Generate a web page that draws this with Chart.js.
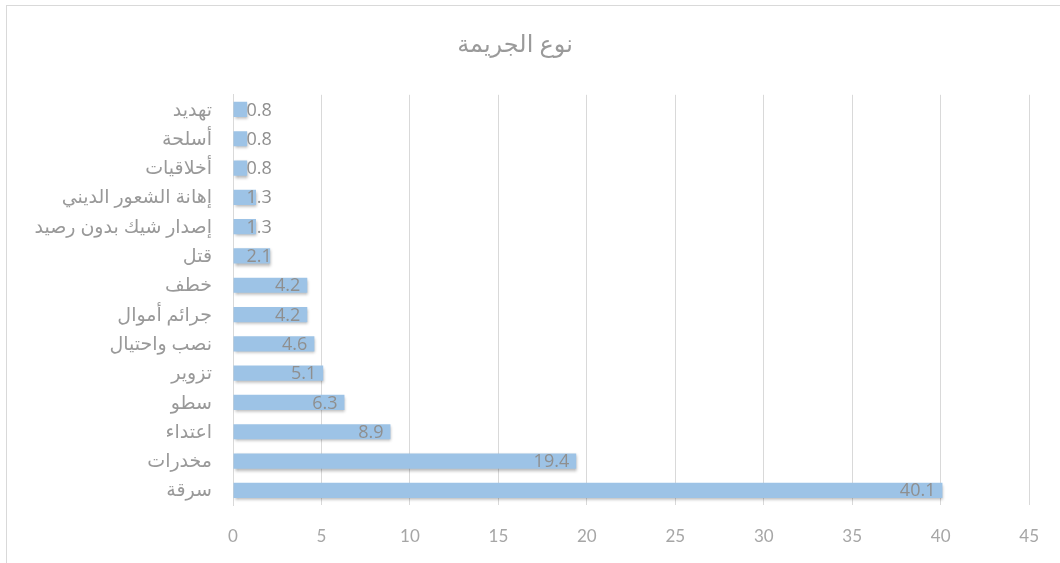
<!DOCTYPE html>
<html>
<head>
<meta charset="utf-8">
<script src="https://cdn.jsdelivr.net/npm/chart.js@4"></script>
<style>
  body { margin: 0; background: #fff; }
  #wrap { position: relative; width: 1060px; height: 563px; }
  #frame { position: absolute; left: 6px; top: 5px; width: 1060px; height: 570px; border: 1px solid #d9d9d9; box-sizing: border-box; }
  canvas { position: absolute; left: 0; top: 0; }
</style>
</head>
<body>
<div id="wrap">
  <div id="frame"></div>
  <canvas id="barChart" width="1060" height="563"></canvas>
</div>
<script>
const crimeTypes = ['تهديد', 'أسلحة', 'أخلاقيات', 'إهانة الشعور الديني', 'إصدار شيك بدون رصيد', 'قتل', 'خطف', 'جرائم أموال', 'نصب واحتيال', 'تزوير', 'سطو', 'اعتداء', 'مخدرات', 'سرقة'];
const percentages = [0.8, 0.8, 0.8, 1.3, 1.3, 2.1, 4.2, 4.2, 4.6, 5.1, 6.3, 8.9, 19.4, 40.1];
const xTicks = [0, 5, 10, 15, 20, 25, 30, 35, 40, 45];

const fontFam = 'Lato, "DejaVu Sans", sans-serif';

// soft shadow under the bars, like the Excel original
const barShadow = {
    id: 'barShadow',
    beforeDatasetsDraw(chart) {
        const ctx = chart.ctx;
        ctx.save();
        ctx.shadowColor = 'rgba(0,0,0,0.3)';
        ctx.shadowBlur = 3;
        ctx.shadowOffsetX = 1;
        ctx.shadowOffsetY = 2;
    },
    afterDatasetsDraw(chart) {
        chart.ctx.restore();
    }
};

// value labels at the inside end of each bar
const valueLabels = {
    id: 'valueLabels',
    afterDatasetsDraw(chart) {
        const ctx = chart.ctx;
        const meta = chart.getDatasetMeta(0);
        ctx.save();
        ctx.font = '18px "Open Sans", sans-serif';
        ctx.fillStyle = '#8f8f8f';
        ctx.textBaseline = 'middle';
        ctx.textAlign = 'left';
        meta.data.forEach((bar, i) => {
            const txt = percentages[i].toFixed(1);
            const w = ctx.measureText(txt).width;
            const x = Math.max(bar.x - 7 - w, bar.base + 13);
            ctx.fillText(txt, x, bar.y + 1);
        });
        ctx.restore();
    }
};

new Chart(document.getElementById('barChart'), {
    type: 'bar',
    data: {
        labels: crimeTypes,
        datasets: [{
            data: percentages,
            backgroundColor: '#9dc3e6',
            barPercentage: 0.52,
            categoryPercentage: 1
        }]
    },
    options: {
        responsive: false,
        animation: false,
        indexAxis: 'y',
        layout: { padding: { left: 0, right: 30, top: 0, bottom: 0 } },
        plugins: {
            legend: { display: false },
            tooltip: { enabled: false },
            title: {
                display: true,
                text: 'نوع الجريمة',
                color: '#9a9a9a',
                font: { family: fontFam, size: 24, weight: 'normal' },
                padding: { top: 30, bottom: 36 }
            }
        },
        scales: {
            x: {
                min: 0,
                max: 45,
                afterBuildTicks(scale) {
                    scale.ticks = xTicks.map(v => ({ value: v }));
                },
                afterFit(scale) { scale.height = 58; },
                grid: { color: '#d9d9d9', drawTicks: false },
                border: { display: false },
                ticks: {
                    padding: 21,
                    color: '#a6a6a6',
                    font: { family: fontFam, size: 17 }
                }
            },
            y: {
                afterFit(scale) { scale.width = 233; },
                grid: { display: false, drawTicks: false },
                border: { display: true, color: '#d9d9d9' },
                ticks: {
                    padding: 21,
                    color: '#999999',
                    font: { family: fontFam, size: 19 }
                }
            }
        }
    },
    plugins: [barShadow, valueLabels]
});
</script>
</body>
</html>
